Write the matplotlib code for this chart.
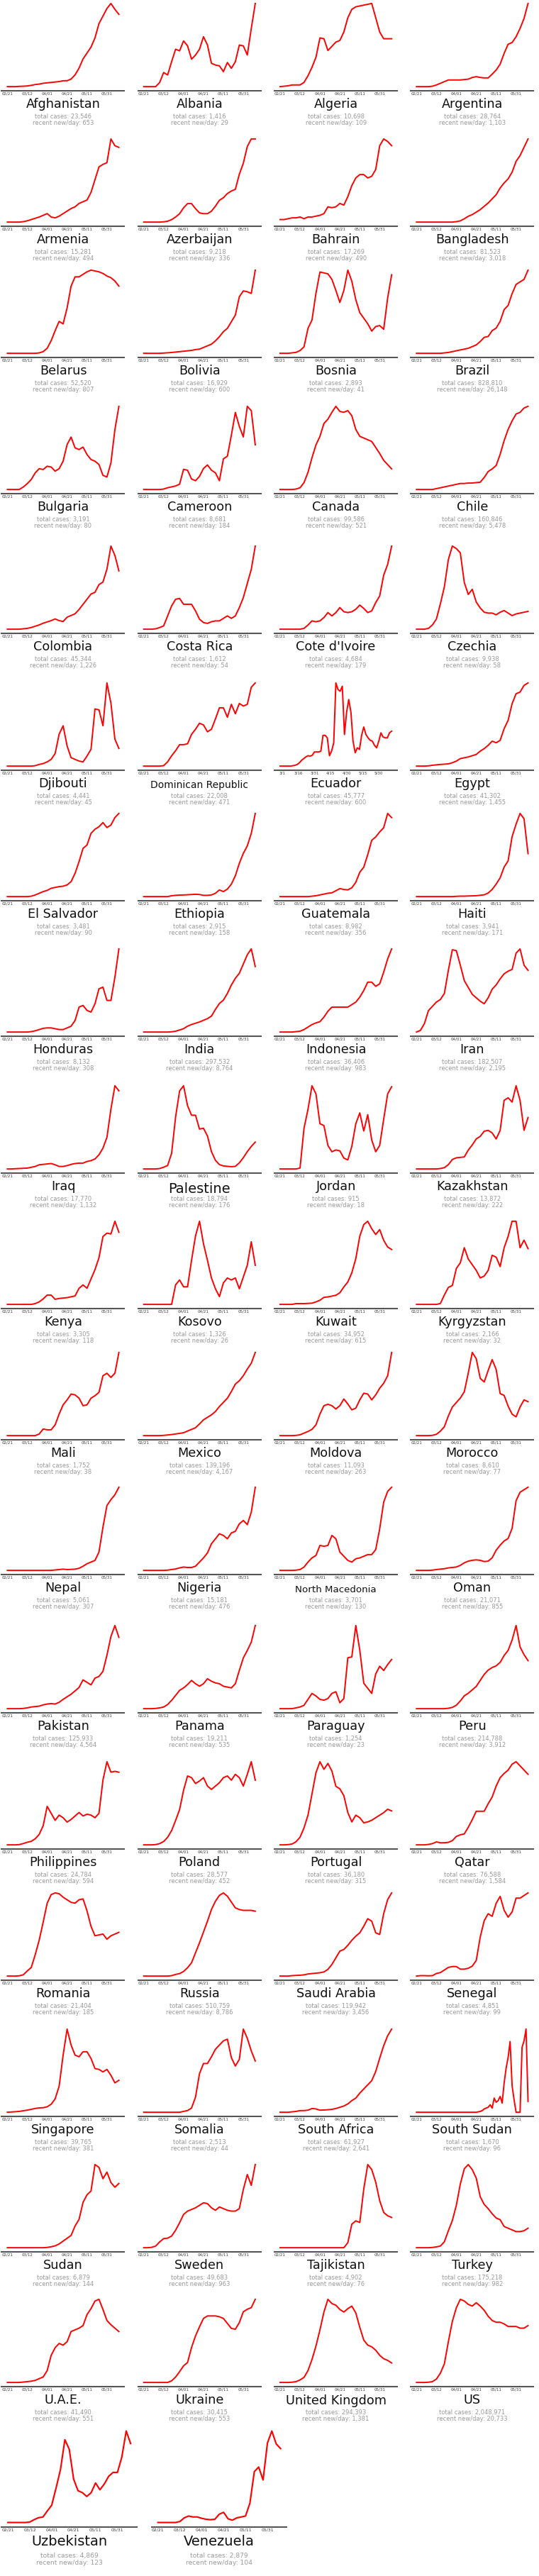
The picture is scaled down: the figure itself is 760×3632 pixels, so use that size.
import numpy as np
import pandas as pd
import matplotlib
matplotlib.use("Agg")
import matplotlib.pyplot as plt

# ---- data: daily new cases, read off the reference as % of each panel's peak ----
# 4-day steps from 02/21 to 06/12 (29 values); a few spiky ones use 2-day steps
afghanistan = [0, 0, 0, 0.3, 0.5, 0.8, 1.5, 2.5, 3, 4, 4.5, 5, 5.5, 6, 7, 7, 9, 14, 22, 33, 40, 47, 58, 75, 84, 93, 99, 92, 86]
albania = [0, 0, 0, 0, 5, 17, 14, 30, 45, 43, 55, 49, 33, 38, 45, 60, 50, 28, 26, 25, 18, 29, 22, 30, 50, 49, 38, 70, 100]
algeria = [0, 0.5, 1, 2, 2, 2, 5, 13, 23, 35, 58, 57, 43, 48, 53, 55, 65, 82, 92, 95, 96, 97, 98, 99, 82, 65, 57, 57, 57]
argentina = [0, 0, 0, 0, 0.5, 2, 4, 6, 8, 8, 8, 8, 8.5, 9, 11, 12, 11, 10.5, 10.5, 15, 20, 27, 40, 51, 53, 60, 70, 82, 100]
armenia = [0, 0, 0, 0, 0.5, 1.5, 3, 4.5, 6, 8, 10, 6, 5, 7, 10, 13, 16, 18, 22, 24, 26, 35, 50, 65, 68, 70, 98, 90, 88]
azerbaijan = [0, 0, 0, 0, 0, 0.3, 1, 3, 6, 10, 17, 22, 22, 16, 11, 10, 10, 13, 19, 26, 29, 34, 37, 39, 57, 70, 90, 99, 99]
bahrain = [3, 3, 4, 5, 5, 6, 4, 6, 6, 7, 8, 10, 18, 17, 18, 22, 20, 30, 43, 52, 56, 56, 52, 54, 62, 90, 98, 95, 90]
bangladesh = [0, 0, 0, 0, 0, 0, 0, 0, 0, 0, 0.5, 1.5, 4, 7, 9, 12, 15, 19, 23, 28, 33, 41, 47, 52, 60, 73, 80, 90, 100]
belarus = [0, 0, 0, 0, 0, 0, 0, 0, 0.5, 2, 6, 15, 27, 38, 35, 54, 80, 91, 91, 94, 97, 99, 98, 97, 95, 92, 90, 86, 80]
bolivia = [0, 0, 0, 0, 0, 0.3, 0.6, 1, 1.5, 2, 2.5, 3, 3.5, 4.5, 5, 7, 9, 11, 15, 20, 26, 30, 38, 46, 68, 75, 74, 72, 100]
bosnia = [0, 0, 0, 0.5, 1, 3, 7, 27, 36, 65, 88, 87, 86, 80, 68, 55, 68, 90, 78, 58, 44, 38, 32, 24, 29, 30, 26, 60, 85]
brazil = [0, 0, 0, 0, 0, 0, 0, 0.5, 1, 2, 3, 4, 5, 6, 8, 10, 14, 19, 20, 27, 30, 38, 52, 57, 71, 82, 85, 88, 99]
bulgaria = [0, 0, 0, 0, 3, 7, 12, 20, 25, 24, 28, 27, 22, 25, 34, 54, 63, 50, 48, 51, 42, 36, 34, 30, 17, 15, 32, 72, 100]
cameroon = [0, 0, 0, 0, 0, 0.5, 2, 3, 4, 6, 23, 22, 12, 10, 15, 24, 28, 22, 19, 10, 35, 38, 62, 88, 72, 60, 95, 90, 51]
canada = [0, 0, 0, 0, 0.5, 2, 8, 20, 37, 52, 62, 77, 82, 90, 97, 91, 90, 92, 86, 70, 62, 60, 58, 56, 49, 42, 34, 29, 24]
chile = [0, 0, 0, 0, 0, 1, 2, 3, 4, 5, 6, 7, 7, 7.5, 7.5, 8, 8.5, 14, 21, 24, 28, 41, 57, 70, 80, 88, 90, 95, 97]
colombia = [0, 0, 0, 0, 0.5, 1, 2, 3.5, 5, 7, 8.5, 10, 12, 10, 9, 14, 16, 18, 23, 29, 35, 41, 43, 52, 55, 70, 97, 86, 68]
costa_rica = [0, 0, 0, 0.5, 2, 4, 16, 28, 36, 37, 30, 30, 30, 22, 12, 8, 7, 9, 10, 10, 13, 16, 13, 16, 26, 38, 55, 72, 100]
cote_divoire = [0, 0, 0, 0, 0, 0, 1, 5, 10, 9, 10, 14, 20, 16, 20, 26, 21, 20, 21, 24, 29, 25, 20, 22, 32, 40, 65, 78, 100]
czechia = [0, 0, 0, 1, 5, 12, 30, 50, 82, 98, 95, 90, 55, 41, 47, 32, 25, 20, 19, 19, 17, 20, 22, 19, 16, 18, 19, 20, 21]
djibouti = [0, 0, 0, 0, 0, 0, 0, 0.5, 2, 3, 5, 8, 15, 38, 48, 24, 10, 8, 6, 5, 12, 20, 68, 67, 48, 99, 75, 32, 21]
dominican_republic = [0, 0, 0, 0, 0, 0.5, 5, 12, 18, 25, 25, 26, 37, 43, 50, 48, 40, 43, 55, 68, 68, 57, 72, 61, 73, 70, 72, 92, 97]
# Ecuador: 2-day steps from 02/28 to 06/11
ecuador = [0, 0, 0, 0, 0, 0, 0.5, 1, 2, 4, 7, 9, 11, 12.5, 12, 13, 17, 17, 17, 18, 37, 37, 34, 12.5, 18, 28,
           100, 92, 90, 96, 38, 65, 80, 65, 30, 16, 22, 20, 37, 47, 38, 34, 31, 30, 25, 22, 30, 40, 35, 34, 34, 40, 42]
egypt = [0, 0, 0, 0.3, 1, 1.5, 2, 2.3, 2.7, 4, 6, 9, 10, 11, 12.5, 14, 18, 21, 25, 30, 28, 31, 45, 55, 75, 87, 89, 97, 100]
el_salvador = [0, 0, 0, 0, 0, 0, 0.5, 2, 4, 6, 7.5, 10, 11, 12, 12.5, 14, 18, 28, 42, 58, 62, 76, 81, 84, 89, 83, 86, 95, 100]
ethiopia = [0, 0, 0, 0, 0, 0, 0, 1, 1.5, 1.8, 2, 2.2, 2.5, 2.8, 2.5, 1.5, 1.5, 2, 4, 8, 6, 9, 15, 25, 40, 52, 61, 76, 100]
guatemala = [0, 0, 0, 0, 0, 0, 0, 0, 0.5, 1, 2, 3, 4, 4.5, 7, 9.5, 8.5, 8, 10.5, 17, 29, 35, 50, 67, 71, 77, 82, 99, 94]
haiti = [0, 0, 0, 0, 0, 0, 0, 0, 0, 0, 0.3, 0.5, 0.5, 0.7, 0.8, 1, 1.5, 2, 4, 8, 14, 21, 33, 40, 67, 81, 93, 87, 48]
honduras = [0, 0, 0, 0, 0, 0, 0.5, 1.5, 3, 4.5, 5, 5, 4, 3, 3, 5, 7, 14, 30, 32, 26, 24, 34, 52, 54, 38, 38, 66, 100]
india = [0, 0, 0, 0, 0, 0, 0, 0.3, 1, 2.5, 4, 7, 9, 10.5, 12, 14, 16, 19, 27, 34, 38, 46, 56, 64, 70, 81, 92, 99, 78]
indonesia = [0, 0, 0, 0, 0.5, 1, 3, 6, 9, 11, 12.5, 18, 25, 30, 30, 30, 30, 30, 33, 36, 42, 50, 60, 60, 55, 58, 72, 88, 100]
iran = [0, 2, 10, 25, 30, 35, 38, 45, 72, 96, 95, 78, 60, 52, 44, 40, 36, 33, 40, 50, 55, 62, 68, 71, 73, 92, 97, 78, 72]
iraq = [0, 0, 0.3, 0.5, 0.8, 1, 2, 3, 5, 5.5, 6, 6.5, 5, 3, 3, 4, 5.5, 6.5, 7, 7, 9, 10, 12, 17, 25, 38, 72, 100, 94]
palestine = [0, 0, 0, 0, 0.5, 2, 4, 18, 60, 90, 96, 73, 62, 62, 46, 47, 38, 20, 10, 5, 3.5, 3, 2.6, 3, 7, 13, 20, 26, 31]
jordan = [0, 0, 0, 0, 0, 1, 45, 66, 92, 83, 50, 48, 26, 19, 21, 20, 12, 10, 25, 50, 62, 42, 60, 32, 19, 26, 55, 83, 91]
kazakhstan = [0, 0, 0, 0, 0, 0, 0.5, 1.5, 5, 11, 13, 13.5, 14, 22, 28, 35, 38, 44, 45, 42, 35, 45, 80, 83, 78, 97, 80, 45, 60]
kenya = [0, 0, 0, 0, 0, 0, 0, 1, 3, 6.5, 11, 11, 6, 7, 7.5, 8, 9, 10, 19, 23, 19, 30, 41, 55, 80, 84, 83, 98, 85]
kosovo = [0, 0, 0, 0, 0, 0, 0, 0, 20, 25, 18, 18, 45, 70, 85, 62, 45, 27, 16, 8, 22, 27, 25, 27, 16, 28, 40, 64, 40]
kuwait = [0, 0, 0, 0, 1, 1, 1, 1.2, 1.5, 3, 5, 8.5, 9, 10, 11, 14, 21, 27, 38, 55, 82, 96, 100, 91, 84, 90, 77, 69, 66]
kyrgyzstan = [0, 0, 0, 0, 0, 0, 1, 10, 18, 20, 38, 44, 60, 48, 42, 36, 28, 30, 36, 52, 50, 40, 60, 72, 88, 88, 60, 68, 59]
mali = [0, 0, 0, 0, 0, 0, 0, 0, 2, 8, 7, 7, 13, 26, 37, 43, 50, 49, 45, 36, 37, 45, 48, 52, 72, 75, 70, 75, 100]
mexico = [0, 0, 0, 0, 0, 0.3, 0.8, 1.3, 2, 2.7, 3.5, 5.5, 7.5, 9.5, 14, 19, 22, 25, 29, 35, 40, 45, 53, 62, 66, 72, 80, 87, 100]
moldova = [0, 0, 0, 0, 0.3, 1, 3, 5, 7.5, 13, 26, 36, 37.7, 36, 32, 36, 44, 38, 31, 33, 43, 51, 50, 43, 49, 57, 63, 72, 100]
morocco = [0, 0, 0, 0, 0.3, 1.5, 5, 10, 22, 32, 37, 42, 49, 70, 93, 86, 64, 60, 73, 85, 74, 47, 45, 33, 24, 21, 32, 40, 38]
nepal = [0, 0, 0, 0, 0, 0, 0, 0, 0, 0, 0, 0, 0.5, 1, 1.5, 1, 1.2, 1.5, 2.5, 5, 8, 10, 12, 22, 52, 78, 85, 91, 100]
nigeria = [0, 0, 0, 0, 0, 0, 0.3, 1, 1.7, 3, 4, 3.5, 3.5, 5, 10, 15, 21, 32, 38, 44, 42, 38, 45, 47, 56, 60, 55, 70, 100]
north_macedonia = [0, 0, 0, 0, 0.3, 1, 4, 10, 15, 18, 30, 29, 30, 42, 38, 22, 17, 12, 10, 14, 15, 17, 19, 19, 25, 50, 82, 95, 100]
oman = [0, 0, 0, 0, 0.3, 1, 1.5, 2, 3, 3.5, 4, 6, 9, 11, 12, 12.5, 12, 10.5, 11, 15, 24, 30, 35, 38, 50, 83, 93, 96, 99]
pakistan = [0, 0, 0, 0, 0.3, 1, 2, 2.5, 3, 4.5, 5.5, 6, 5.5, 7.5, 11, 14, 17, 21, 25, 34, 31, 28, 36, 38, 44, 63, 85, 98, 84]
panama = [0, 0, 0, 0.3, 1, 2, 5, 10, 16, 22, 25, 29, 34, 30, 27, 30, 36, 33, 31, 30, 27, 26, 25, 30, 46, 61, 70, 80, 100]
paraguay = [0, 0, 0, 0, 1, 2, 4, 11, 18, 15, 11, 10, 12, 18, 20, 7, 12, 60, 61, 98, 69, 30, 24, 18, 41, 50, 45, 52, 58]
peru = [0, 0, 0, 0, 0, 0, 0, 0, 0.5, 1.5, 4, 9, 15, 18, 22, 26, 33, 40, 45, 48, 50, 54, 62, 68, 80, 97, 72, 63, 56]
philippines = [0, 0, 0, 0.3, 1.5, 3, 4, 7, 12, 22, 44, 36, 28, 34, 31, 26, 29, 33, 37, 33, 35, 34, 31, 36, 74, 95, 83, 84, 83]
poland = [0, 0, 0, 0.3, 1.5, 4, 9, 17, 29, 42, 65, 82, 80, 73, 76, 80, 70, 66, 70, 74, 80, 82, 77, 84, 80, 70, 84, 99, 77]
portugal = [0, 0, 0.3, 1, 3.7, 9, 20, 35, 60, 85, 98, 89, 96, 87, 69, 66, 58, 38, 27, 35, 32, 26, 27, 29, 32, 35, 38, 42, 40]
qatar = [0, 0, 0, 0.5, 1.5, 3.5, 2.5, 2.5, 3, 5, 10, 12, 13, 21, 30, 40, 40, 40, 49, 57, 70, 80, 85, 89, 96, 99, 94, 89, 84]
romania = [0, 0, 0, 0.3, 1.5, 6, 10, 25, 42, 63, 85, 95, 97, 96, 92, 89, 86, 85, 89, 90, 76, 58, 47, 48, 49, 43, 47, 49, 51]
russia = [0, 0, 0, 0, 0, 0, 0, 0.5, 2, 3, 5.5, 10, 16, 28, 40, 53, 66, 80, 90, 97, 100, 96, 89, 82, 80, 79, 79, 79, 78]
saudi_arabia = [0, 0, 0, 0.5, 0.8, 1, 1.5, 2.5, 3, 3.5, 4, 5, 8, 14, 22, 30, 32, 37, 43, 48, 52, 60, 69, 66, 52, 50, 75, 92, 100]
senegal = [0, 0.5, 0.5, 0.3, 0.5, 3, 4, 7, 10, 11, 11, 8, 8, 9, 11.5, 18, 45, 64, 72, 69, 84, 92, 76, 68, 74, 90, 90, 93, 96]
singapore = [0, 0.3, 0.6, 1, 1.8, 2.5, 3.5, 4.5, 5.2, 5.4, 6.5, 9.5, 16, 31, 68, 99, 80, 68, 66, 72, 72, 64, 52, 51, 48, 51, 44, 35, 38]
somalia = [0, 0, 0, 0, 0, 0, 0, 0, 0, 0, 1, 2, 5, 18, 46, 58, 58, 66, 75, 80, 85, 87, 65, 55, 63, 99, 88, 73, 61]
south_africa = [0, 0, 0, 0.5, 1, 2, 2, 2.5, 4.5, 4, 2.5, 2.7, 3, 3.5, 4.5, 6, 7.5, 10, 14, 17, 23, 28, 33, 38, 49, 65, 80, 92, 100]
# South Sudan: 2-day steps
south_sudan = [0, 0, 0, 0, 0, 0, 0, 0, 0, 0, 0, 0, 0, 0, 0, 0, 0, 0, 0, 0, 0, 0, 0, 0, 0, 0, 0, 0, 0, 0, 0,
               0.5, 1, 2, 4, 5, 6, 9, 5, 17, 12, 14, 19, 11, 35, 53, 66, 85, 32, 15, 0, 0, 0, 78, 86, 100, 13]
sudan = [0, 0, 0, 0, 0, 0, 0, 0, 0, 0, 0.3, 1, 2, 4, 7, 10, 13, 23, 30, 48, 56, 60, 88, 85, 73, 80, 69, 64, 68]
sweden = [0, 0, 0.5, 2, 7, 11, 11.5, 14, 21, 30, 40, 44, 46, 48, 51, 54, 53, 48, 45, 49, 47, 45, 44, 44, 47, 70, 88, 75, 100]
tajikistan = [0, 0, 0, 0, 0, 0, 0, 0, 0, 0, 0, 0, 0, 0, 0, 0, 0, 6, 28, 32, 30, 70, 99, 93, 78, 56, 42, 38, 36]
turkey = [0, 0, 0, 0, 0.3, 1, 2, 7, 20, 32, 50, 75, 93, 98, 92, 82, 60, 51, 46, 40, 35, 33, 25, 23, 21, 19, 19, 20, 23]
uae = [0, 0, 0, 0, 0.5, 1, 1.5, 2.5, 4.5, 6.5, 14, 32, 41, 46, 44, 48, 60, 62, 64, 67, 80, 87, 96, 98, 86, 73, 68, 64, 60]
ukraine = [0, 0, 0, 0, 0, 0, 0, 2, 6.5, 13, 20, 24, 42, 56, 67, 77, 80, 80, 80, 79, 77, 71, 65, 64, 72, 85, 88, 90, 100]
united_kingdom = [0, 0, 0, 0.3, 1, 3, 6, 14, 27, 43, 62, 83, 98, 93, 91, 86, 83, 87, 90, 82, 65, 50, 44, 42, 38, 32, 28, 26, 23]
us = [0, 0, 0, 0.3, 1, 4, 11, 22, 48, 72, 88, 98, 96, 92, 90, 94, 90, 85, 78, 73, 71, 71, 69, 66, 66, 66, 64, 64, 67]
uzbekistan = [0, 0, 0, 0, 0, 0.5, 3, 5, 5.7, 12, 18, 36, 55, 86, 76, 45, 33, 31, 27, 31, 41, 34, 40, 48, 52, 52, 68, 95, 82]
venezuela = [0, 0, 0, 0, 0, 1, 5, 7, 6, 6, 4.5, 3.5, 3, 3.5, 9, 11, 4, 2.5, 5, 6, 7, 21, 55, 60, 46, 86, 99, 85, 80]

countries = ["Afghanistan", "Albania", "Algeria", "Argentina", "Armenia", "Azerbaijan", "Bahrain", "Bangladesh",
             "Belarus", "Bolivia", "Bosnia", "Brazil", "Bulgaria", "Cameroon", "Canada", "Chile",
             "Colombia", "Costa Rica", "Cote d'Ivoire", "Czechia", "Djibouti", "Dominican Republic", "Ecuador", "Egypt",
             "El Salvador", "Ethiopia", "Guatemala", "Haiti", "Honduras", "India", "Indonesia", "Iran",
             "Iraq", "Palestine", "Jordan", "Kazakhstan", "Kenya", "Kosovo", "Kuwait", "Kyrgyzstan",
             "Mali", "Mexico", "Moldova", "Morocco", "Nepal", "Nigeria", "North Macedonia", "Oman",
             "Pakistan", "Panama", "Paraguay", "Peru", "Philippines", "Poland", "Portugal", "Qatar",
             "Romania", "Russia", "Saudi Arabia", "Senegal", "Singapore", "Somalia", "South Africa", "South Sudan",
             "Sudan", "Sweden", "Tajikistan", "Turkey", "U.A.E.", "Ukraine", "United Kingdom", "US",
             "Uzbekistan", "Venezuela"]
series = [afghanistan, albania, algeria, argentina, armenia, azerbaijan, bahrain, bangladesh,
          belarus, bolivia, bosnia, brazil, bulgaria, cameroon, canada, chile,
          colombia, costa_rica, cote_divoire, czechia, djibouti, dominican_republic, ecuador, egypt,
          el_salvador, ethiopia, guatemala, haiti, honduras, india, indonesia, iran,
          iraq, palestine, jordan, kazakhstan, kenya, kosovo, kuwait, kyrgyzstan,
          mali, mexico, moldova, morocco, nepal, nigeria, north_macedonia, oman,
          pakistan, panama, paraguay, peru, philippines, poland, portugal, qatar,
          romania, russia, saudi_arabia, senegal, singapore, somalia, south_africa, south_sudan,
          sudan, sweden, tajikistan, turkey, uae, ukraine, united_kingdom, us,
          uzbekistan, venezuela]
total_cases = [23546, 1416, 10698, 28764, 15281, 9218, 17269, 81523,
               52520, 16929, 2893, 828810, 3191, 8681, 99586, 160846,
               45344, 1612, 4684, 9938, 4441, 22008, 45777, 41302,
               3481, 2915, 8982, 3941, 8132, 297532, 36406, 182507,
               17770, 18794, 915, 13872, 3305, 1326, 34952, 2166,
               1752, 139196, 11093, 8610, 5061, 15181, 3701, 21071,
               125933, 19211, 1254, 214788, 24784, 28577, 36180, 76588,
               21404, 510759, 119942, 4851, 39765, 2513, 61927, 1670,
               6879, 49683, 4902, 175218, 41490, 30415, 294393, 2048971,
               4869, 2879]
recent_per_day = [653, 29, 109, 1103, 494, 336, 490, 3018,
                  807, 600, 41, 26148, 80, 184, 521, 5478,
                  1226, 54, 179, 58, 45, 471, 600, 1455,
                  90, 158, 356, 171, 308, 8764, 983, 2195,
                  1132, 176, 18, 222, 118, 26, 615, 32,
                  38, 4167, 263, 77, 307, 476, 130, 855,
                  4564, 535, 23, 3912, 594, 452, 315, 1584,
                  185, 8786, 3456, 99, 381, 44, 2641, 96,
                  144, 963, 76, 982, 551, 553, 1381, 20733,
                  123, 104]

date_start, date_end = "2020-02-21", "2020-06-12"
ecuador_start, ecuador_end = "2020-02-28", "2020-06-11"

# ---- layout (pixels, top-left origin) ----
W, H = 760, 3632
row_axis_y = [128, 319, 504, 696, 893, 1086, 1270, 1461, 1654, 1845,
              2030, 2220, 2415, 2607, 2792, 2984, 3175, 3365, 3563]
title_size = {"Dominican Republic": 10, "North Macedonia": 9.6, "Palestine": 14}
title_shift = {"Dominican Republic": 2, "North Macedonia": 2.5, "Palestine": 3.5, "United Kingdom": 1}

fig = plt.figure(figsize=(W / 100, H / 100), dpi=100)
fig.patch.set_facecolor("white")

default_ticks = pd.date_range("2020-02-21", periods=6, freq="20D")
ecuador_ticks = pd.date_range("2020-03-01", periods=7, freq="15D")

for i, name in enumerate(countries):
    r, c = divmod(i, 4)
    s = 1.1 if r == len(row_axis_y) - 1 else 1.0
    pw, ph = 173 * s, 129 * s
    x0 = 2.5 + c * (192.3 if s == 1.0 else 211.5)
    y_ax = row_axis_y[r]
    ax = fig.add_axes([x0 / W, 1 - y_ax / H, pw / W, ph / H])

    vals = np.asarray(series[i], dtype=float)
    if name == "Ecuador":
        dates = pd.date_range(ecuador_start, ecuador_end, periods=len(vals))
        ticks = ecuador_ticks
        labels = [f"{d.month}/{d.day}" for d in ticks]
    else:
        dates = pd.date_range(date_start, date_end, periods=len(vals))
        ticks = default_ticks
        labels = [d.strftime("%m/%d") for d in ticks]

    ax.plot(dates.to_pydatetime(), vals, color="#ff0000", lw=1.4 * s, solid_joinstyle="round")
    top = vals.max()
    ax.set_ylim(-0.05 * top, 1.05 * top)
    ax.set_xticks(ticks.to_pydatetime())
    ax.set_xticklabels(labels)
    ax.tick_params(axis="x", length=0, pad=0.8, labelsize=4.0 * s, labelcolor="#3a3a3a")
    ax.set_yticks([])
    for side in ("top", "left", "right"):
        ax.spines[side].set_visible(False)
    ax.spines["bottom"].set_color("#555555")
    ax.spines["bottom"].set_linewidth(1.5)
    ax.set_facecolor("none")

    cx = (x0 + pw / 2) / W
    ty = y_ax + 19 * s + title_shift.get(name, 0)
    fig.text(cx, 1 - ty / H, name, ha="center", va="center",
             fontsize=title_size.get(name, 12.7) * s, color="#111111")
    fig.text(cx, 1 - (y_ax + 36.5 * s) / H, f"total cases: {total_cases[i]:,}",
             ha="center", va="center", fontsize=6.0 * s, color="#9a9a9a")
    fig.text(cx, 1 - (y_ax + 45.5 * s) / H, f"recent new/day: {recent_per_day[i]:,}",
             ha="center", va="center", fontsize=6.0 * s, color="#9a9a9a")

fig.savefig("out.png", dpi=100, facecolor="white")
